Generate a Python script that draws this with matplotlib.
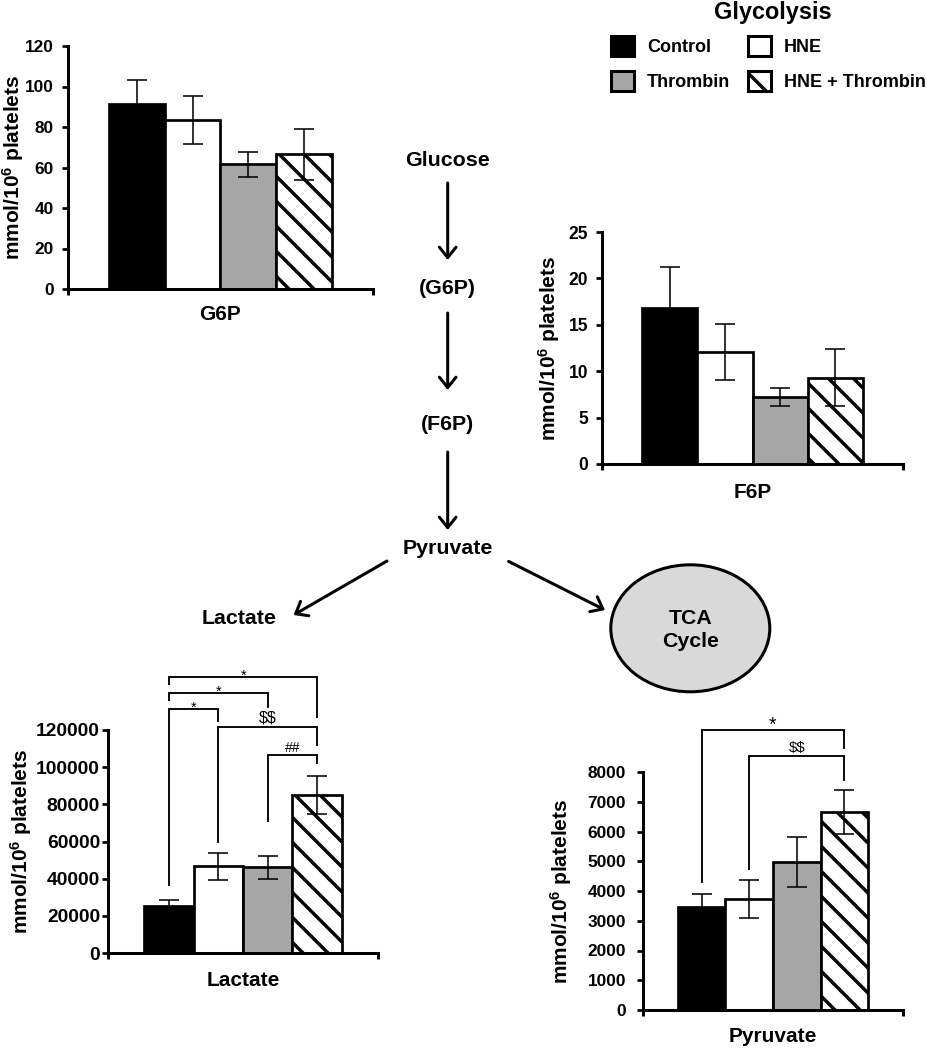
import numpy as np
import matplotlib
matplotlib.use('Agg')
import matplotlib.pyplot as plt
from matplotlib.patches import Patch, Ellipse

plt.rcParams['font.family'] = ['Liberation Sans', 'DejaVu Sans']
plt.rcParams['font.weight'] = 'bold'
plt.rcParams['axes.labelweight'] = 'bold'
plt.rcParams['mathtext.fontset'] = 'custom'
plt.rcParams['mathtext.rm'] = 'Liberation Sans:bold'
plt.rcParams['mathtext.bf'] = 'Liberation Sans:bold'
plt.rcParams['mathtext.default'] = 'bf'
plt.rcParams['hatch.linewidth'] = 3.3

# groups shown in every panel
groups = ['Control', 'HNE', 'Thrombin', 'HNE + Thrombin']
bar_colors = ['black', 'white', '#a6a6a6', 'white']
bar_hatches = [None, None, None, '\\']

# values (mean, error)
g6p_mean = [91.5, 83.5, 61.5, 66.5]
g6p_err = [11.5, 12.0, 6.0, 12.5]
f6p_mean = [16.8, 12.1, 7.2, 9.3]
f6p_err = [4.4, 3.0, 1.0, 3.1]
lactate_mean = [25400, 46600, 46200, 85000]
lactate_err = [2900, 7300, 6200, 10400]
pyruvate_mean = [3470, 3730, 4980, 6660]
pyruvate_err = [430, 640, 830, 750]

# significance brackets: mark, pair of groups, top of bracket, leg ends
lactate_sig_marks = ['*', '*', '*', '$$', '##']
lactate_sig_pairs = [(0, 1), (0, 2), (0, 3), (1, 3), (2, 3)]
lactate_sig_tops = [131300, 140100, 148700, 121500, 106600]
lactate_sig_legs = [(36700, 124900), (136200, 132600), (144800, 126900),
                    (59800, 112000), (71100, 102100)]
pyruvate_sig_marks = ['*', '$$']
pyruvate_sig_pairs = [(0, 3), (1, 3)]
pyruvate_sig_tops = [9400, 8530]
pyruvate_sig_legs = [(4310, 8790), (4740, 7730)]

DPI = 75
W, H = 927, 1050
PT = 72.0 / DPI  # points per pixel

fig = plt.figure(figsize=(W / DPI, H / DPI), dpi=DPI)

# overlay in pixel coordinates for the pathway sketch
ov = fig.add_axes([0, 0, 1, 1])
ov.set_xlim(0, W)
ov.set_ylim(H, 0)
ov.axis('off')


def px_axes(x0, x1, y0, y1):
    return fig.add_axes([x0 / W, 1 - y1 / H, (x1 - x0) / W, (y1 - y0) / H])


def draw_panel(ax, box, means, errs, ymax, ystep, name, ylab_px, xlab_px,
               tick_fs, tick_pad):
    x0, x1, y0, y1 = box
    xs = np.arange(len(groups))
    bars = ax.bar(xs, means, width=1.0, color=bar_colors, edgecolor='black',
                  linewidth=2.6, zorder=2)
    for b, h in zip(bars, bar_hatches):
        if h:
            b.set_hatch(h)
    ax.errorbar(xs, means, yerr=errs, fmt='none', ecolor='black',
                elinewidth=1.5, capsize=9.5, capthick=1.5, zorder=3)
    ax.set_xlim(-1.23, 4.23)
    ax.set_ylim(0, ymax)
    ax.set_yticks(np.arange(0, ymax + ystep / 2, ystep))
    ax.set_xticks([-1.23, 4.23])
    ax.set_xticklabels(['', ''])
    for s in ['top', 'right']:
        ax.spines[s].set_visible(False)
    for s in ['left', 'bottom']:
        ax.spines[s].set_linewidth(2.9)
    ax.tick_params(axis='y', direction='out', length=6 * PT, width=2.6,
                   labelsize=tick_fs, pad=tick_pad * PT)
    ax.tick_params(axis='x', direction='out', length=6 * PT, width=2.9)
    ax.set_ylabel(r'mmol/10$^6$ platelets', fontsize=20, va='center')
    ax.yaxis.set_label_coords((ylab_px - x0) / (x1 - x0), 0.5)
    ax.set_xlabel(name, fontsize=20, va='center')
    ax.xaxis.set_label_coords(0.5, -xlab_px / (y1 - y0))
    ax.patch.set_alpha(0)


def draw_sig(ax, marks, pairs, tops, legs, sizes, offsets):
    for m, (a, b), top, (la, lb), fs, off in zip(marks, pairs, tops, legs,
                                                 sizes, offsets):
        ax.plot([a, a, b, b], [la, top, top, lb], color='black', lw=1.8,
                clip_on=False, zorder=4, solid_joinstyle='miter')
        ax.annotate(m.replace('$', r'\$'), xy=((a + b) / 2, top),
                    xytext=(0, off * PT), textcoords='offset points',
                    ha='center', va='baseline', fontsize=fs,
                    fontweight='normal', annotation_clip=False)


box = (68, 373, 46, 289)
ax1 = px_axes(*box)
draw_panel(ax1, box, g6p_mean, g6p_err, 120, 20, 'G6P', 13, 26, 16.5, 8)

box = (602, 903, 232, 464)
ax2 = px_axes(*box)
draw_panel(ax2, box, f6p_mean, f6p_err, 25, 5, 'F6P', 549, 29, 16.8, 8)

box = (108, 378, 730, 953)
ax3 = px_axes(*box)
draw_panel(ax3, box, lactate_mean, lactate_err, 120000, 20000, 'Lactate',
           21, 27, 18.5, 2)
draw_sig(ax3, lactate_sig_marks, lactate_sig_pairs, lactate_sig_tops,
         lactate_sig_legs, [13.4, 13.4, 13.4, 15.4, 13.4], [-3, -3, -3, 4.5, 2.5])

box = (643, 903, 772, 1010)
ax4 = px_axes(*box)
draw_panel(ax4, box, pyruvate_mean, pyruvate_err, 8000, 1000, 'Pyruvate',
           561, 27, 16.5, 11)
draw_sig(ax4, pyruvate_sig_marks, pyruvate_sig_pairs, pyruvate_sig_tops,
         pyruvate_sig_legs, [19, 14.4], [0, 4.2])

# pathway sketch
arrow = dict(arrowstyle='->,head_length=0.5,head_width=0.4', lw=2.9,
             color='black', shrinkA=0, shrinkB=0, mutation_scale=20)
path_fs = 20.5
ov.text(447.7, 161, 'Glucose', ha='center', va='center', fontsize=path_fs)
ov.annotate('', xy=(447.7, 260), xytext=(447.7, 183), arrowprops=arrow)
ov.text(447.7, 289, '(G6P)', ha='center', va='center', fontsize=path_fs)
ov.annotate('', xy=(447.7, 390), xytext=(447.7, 313), arrowprops=arrow)
ov.text(447.7, 425, '(F6P)', ha='center', va='center', fontsize=path_fs)
ov.annotate('', xy=(447.7, 530), xytext=(447.7, 452), arrowprops=arrow)
ov.text(447.7, 548, 'Pyruvate', ha='center', va='center', fontsize=path_fs)
ov.annotate('', xy=(293.6, 615), xytext=(387, 561), arrowprops=arrow)
ov.text(239, 618, 'Lactate', ha='center', va='center', fontsize=path_fs)
ov.annotate('', xy=(605, 610), xytext=(508.6, 561.4), arrowprops=arrow)
ov.add_patch(Ellipse((690.3, 628.3), 159, 127, facecolor='#d9d9d9',
                     edgecolor='black', lw=2.9))
ov.text(690.3, 630, 'TCA\nCycle', ha='center', va='center', fontsize=20.4,
        linespacing=1.3)

# legend, with its heading as a separate text
ov.text(773, 13, 'Glycolysis', ha='center', va='center', fontsize=22.5)
handles = [Patch(facecolor=c, edgecolor='black', lw=2.9, hatch=h)
           for c, h in zip(bar_colors, bar_hatches)]
order = [0, 2, 1, 3]
fig.legend([handles[i] for i in order], [groups[i] for i in order], ncol=2,
           loc='upper left', bbox_to_anchor=(610 / W, 1 - 35 / H),
           frameon=False, fontsize=17.3,
           handlelength=1.25, handleheight=1.35, handletextpad=0.73,
           columnspacing=1.0, labelspacing=0.82, borderpad=0.06,
           borderaxespad=0)

fig.savefig('out.png', dpi=DPI)
